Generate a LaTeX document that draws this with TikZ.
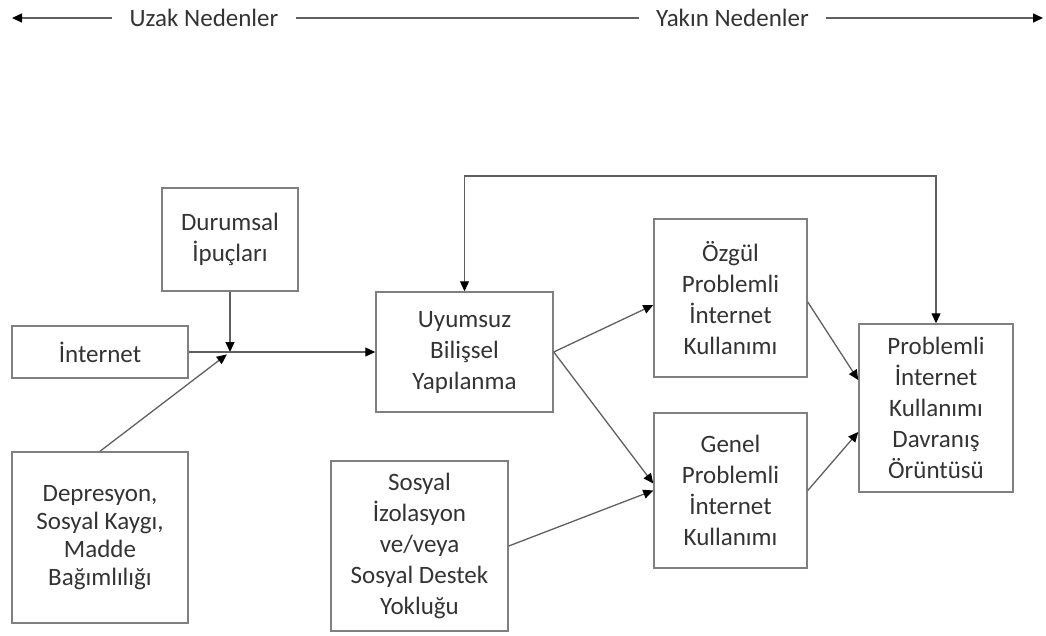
\documentclass[tikz,border=0pt]{standalone}
\usepackage{fontspec}
\setmainfont{Carlito}
\usetikzlibrary{arrows.meta}
\definecolor{txt}{HTML}{333333}
\definecolor{ln}{HTML}{606060}

\begin{document}
\begin{tikzpicture}[x=1pt,y=-1pt,
  box/.style={draw=ln!80, line width=1.5pt, text=txt, align=center,
    font=\fontsize{25}{31}\selectfont, inner sep=0pt},
  lbl/.style={text=txt, font=\fontsize{25}{30}\selectfont, inner xsep=17pt, inner ysep=0pt},
  conn/.style={draw=ln, line width=1.3pt},
  >={Triangle[length=10pt,width=9pt,color=black]}]
\useasboundingbox (0,0) rectangle (1046,635);
\node [lbl] (u) at (204,18) {Uzak Nedenler};
\node [lbl] (y) at (732.5,18) {Yakın Nedenler};
\coordinate (l0) at (12,18);
\coordinate (r0) at (1043,18);
%
\node [box, minimum width=136pt, minimum height=103pt] (v1) at (230,239.5) {Durumsal\\İpuçları};
\node [box, minimum width=176pt, minimum height=52pt] (v2) at (100,352) {İnternet};
\node [box, minimum width=176pt, minimum height=171pt, font=\fontsize{25}{28}\selectfont] (v3) at (100,537.5) {Depresyon,\\Sosyal Kaygı,\\Madde\\Bağımlılığı};
\node [box, minimum width=177pt, minimum height=120pt] (v4) at (464.5,352) {Uyumsuz\\Bilişsel\\Yapılanma};
\node [box, minimum width=177pt, minimum height=170pt] (v5) at (419.5,546) {Sosyal\\İzolasyon\\ve/veya\\Sosyal Destek\\Yokluğu};
\node [box, minimum width=153pt, minimum height=158pt] (v6) at (730.5,298) {Özgül\\Problemli\\İnternet\\Kullanımı};
\node [box, minimum width=153pt, minimum height=155pt] (v7) at (730.5,490.5) {Genel\\Problemli\\İnternet\\Kullanımı};
\node [box, minimum width=154pt, minimum height=168pt] (v8) at (936,408) {Problemli\\İnternet\\Kullanımı\\Davranış\\Örüntüsü};
\coordinate (j) at (230,352);
\coordinate (fb) at (700,176);
%
\draw [conn,->] (u) -- (l0);
\draw [conn] (u) -- (y);
\draw [conn,->] (y) -- (r0);
\draw [conn,->] (v1) -- (j);
\draw [conn] (v2) -- (j);
\draw [conn,->,shorten >=4pt] (v3.north) -- (j);
\draw [conn,->] (j) -- (v4);
\draw [conn,->] (v4.east) -- ([yshift=-7pt]v6.west);
\draw [conn,->] (v4.east) -- ([yshift=7pt]v7.west);
\draw [conn,->] (v5.east) -- (v7.west);
\draw [conn,->] ([yshift=-4pt]v6.east) -- ([yshift=28pt]v8.west);
\draw [conn,->] (v7.east) -- ([yshift=-24pt]v8.west);
\draw [conn,<->] (v4.north) |- (fb) -| (v8.north);
\end{tikzpicture}
\end{document}
